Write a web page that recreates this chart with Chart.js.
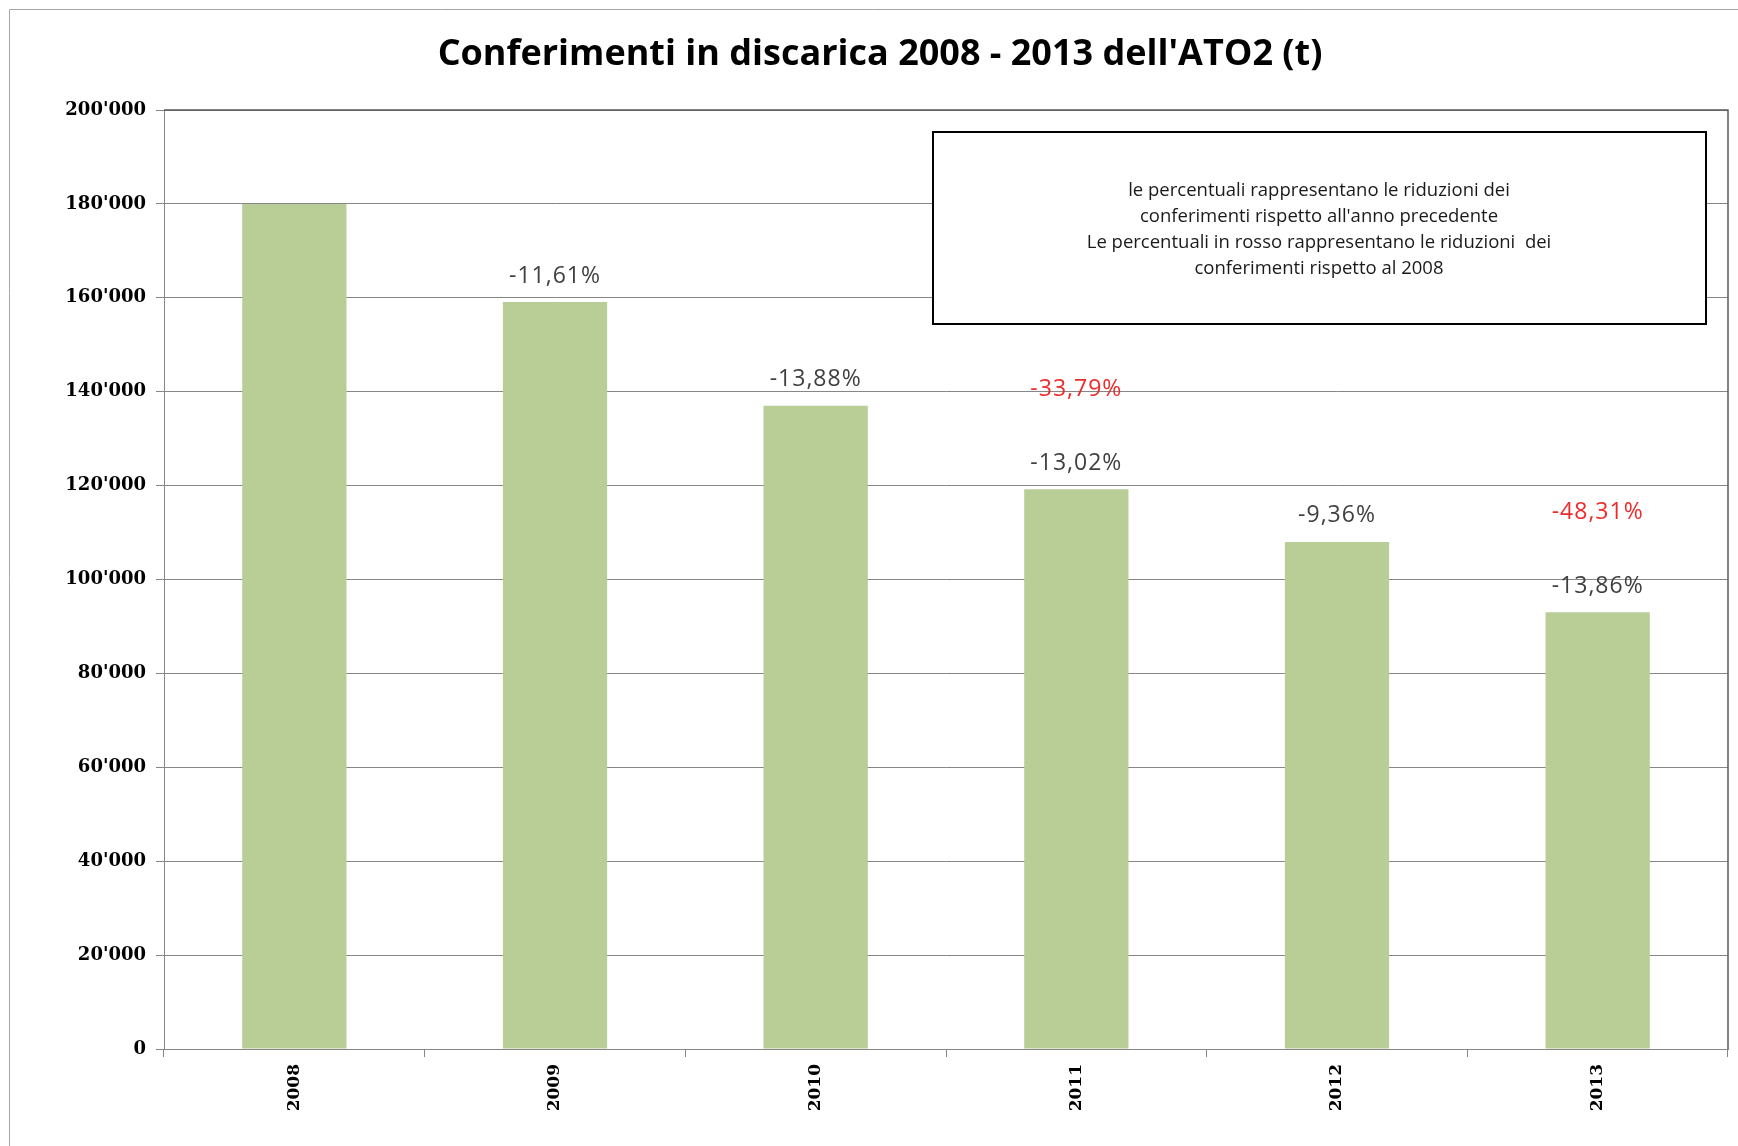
<!DOCTYPE html>
<html>
<head>
<meta charset="utf-8">
<script src="https://cdn.jsdelivr.net/npm/chart.js@4.4.1/dist/chart.umd.min.js"></script>
<style>
  html, body { margin: 0; padding: 0; background: #fff; overflow: hidden; }
  #wrap { width: 1738px; height: 1146px; position: relative; }
</style>
</head>
<body>
<div id="wrap"><canvas id="myChart" width="1738" height="1146"></canvas></div>
<script>
// dati
const anni = ['2008', '2009', '2010', '2011', '2012', '2013'];
const conferimenti = [180000, 159100, 137000, 119200, 108000, 93000];
// riduzione rispetto all'anno precedente
const varPrecedente = ['', '-11,61%', '-13,88%', '-13,02%', '-9,36%', '-13,86%'];
// riduzione rispetto al 2008 (in rosso)
const var2008 = ['', '', '', '-33,79%', '', '-48,31%'];
const yMin = 0;
const yMax = 200000;
const yStep = 20000;
const titolo = "Conferimenti in discarica 2008 - 2013 dell'ATO2 (t)";
const nota = [
    'le percentuali rappresentano le riduzioni dei',
    "conferimenti rispetto all'anno precedente",
    'Le percentuali in rosso rappresentano le riduzioni  dei',
    'conferimenti rispetto al 2008'
];

function formatta(v) {
    return String(v).replace(/\B(?=(\d{3})+(?!\d))/g, "'");
}

// titolo, cornice esterna e bordo dell'area del grafico
const cornice = {
    id: 'cornice',
    beforeDraw(chart) {
        const ctx = chart.ctx;
        ctx.save();
        ctx.strokeStyle = '#a6a6a6';
        ctx.lineWidth = 1;
        ctx.beginPath();
        ctx.moveTo(9.5, chart.height);
        ctx.lineTo(9.5, 9.5);
        ctx.lineTo(chart.width, 9.5);
        ctx.stroke();
        ctx.fillStyle = '#000';
        ctx.font = 'bold 36px "Open Sans"';
        ctx.textAlign = 'center';
        ctx.textBaseline = 'middle';
        ctx.fillText(titolo, 880, 55);
        ctx.restore();
    },
    afterDatasetsDraw(chart) {
        const a = chart.chartArea;
        const ctx = chart.ctx;
        ctx.save();
        ctx.strokeStyle = '#595959';
        ctx.lineWidth = 1.5;
        ctx.beginPath();
        ctx.moveTo(a.left, a.top);
        ctx.lineTo(a.right, a.top);
        ctx.lineTo(a.right, a.bottom);
        ctx.stroke();
        ctx.restore();
    }
};

// etichette percentuali sopra le barre
const percentuali = {
    id: 'percentuali',
    afterDatasetsDraw(chart) {
        const ctx = chart.ctx;
        const meta = chart.getDatasetMeta(0);
        ctx.save();
        ctx.font = '23px "Open Sans"';
        ctx.letterSpacing = '1px';
        ctx.textAlign = 'center';
        ctx.textBaseline = 'middle';
        meta.data.forEach((bar, i) => {
            if (varPrecedente[i]) {
                ctx.fillStyle = '#404040';
                ctx.fillText(varPrecedente[i], bar.x, bar.y - 26);
            }
            if (var2008[i]) {
                ctx.fillStyle = '#ee2b2b';
                ctx.fillText(var2008[i], bar.x, bar.y - 100);
            }
        });
        ctx.restore();
    }
};

// riquadro con la nota
const riquadro = {
    id: 'riquadro',
    afterDraw(chart) {
        const ctx = chart.ctx;
        ctx.save();
        ctx.fillStyle = '#fff';
        ctx.fillRect(933, 132, 773, 192);
        ctx.strokeStyle = '#000';
        ctx.lineWidth = 2;
        ctx.strokeRect(933, 132, 773, 192);
        ctx.fillStyle = '#1a1a1a';
        ctx.font = '18.5px "Open Sans"';
        ctx.textAlign = 'center';
        ctx.textBaseline = 'middle';
        nota.forEach((riga, i) => {
            ctx.fillText(riga, 1319, 191 + i * 26);
        });
        ctx.restore();
    }
};

const config = {
    type: 'bar',
    data: {
        labels: anni,
        datasets: [{
            label: 'Conferimenti (t)',
            data: conferimenti,
            backgroundColor: '#b9cd96',
            borderWidth: 0,
            categoryPercentage: 1,
            barPercentage: 0.4
        }]
    },
    options: {
        responsive: false,
        animation: false,
        layout: { padding: { left: 0, right: 10, top: 110, bottom: 0 } },
        plugins: {
            legend: { display: false },
            tooltip: { enabled: false },
            title: { display: false }
        },
        scales: {
            x: {
                grid: {
                    drawOnChartArea: false,
                    drawTicks: true,
                    tickLength: 8,
                    color: '#868686',
                    offset: true
                },
                border: { color: '#868686' },
                ticks: {
                    color: '#000',
                    font: { family: 'DejaVu Serif', size: 17, weight: 'bold' },
                    minRotation: 90,
                    maxRotation: 90,
                    padding: 7
                },
                afterFit(scale) { scale.height = 97; }
            },
            y: {
                min: yMin,
                max: yMax,
                grid: { color: '#868686', tickLength: 8 },
                border: { color: '#868686' },
                ticks: {
                    stepSize: yStep,
                    color: '#000',
                    padding: 10,
                    font: { family: 'DejaVu Serif', size: 18, weight: 'bold' },
                    callback: (v) => formatta(v)
                },
                afterFit(scale) { scale.width = 164; }
            }
        }
    },
    plugins: [cornice, percentuali, riquadro]
};

const myChart = new Chart(document.getElementById('myChart'), config);
</script>
</body>
</html>
